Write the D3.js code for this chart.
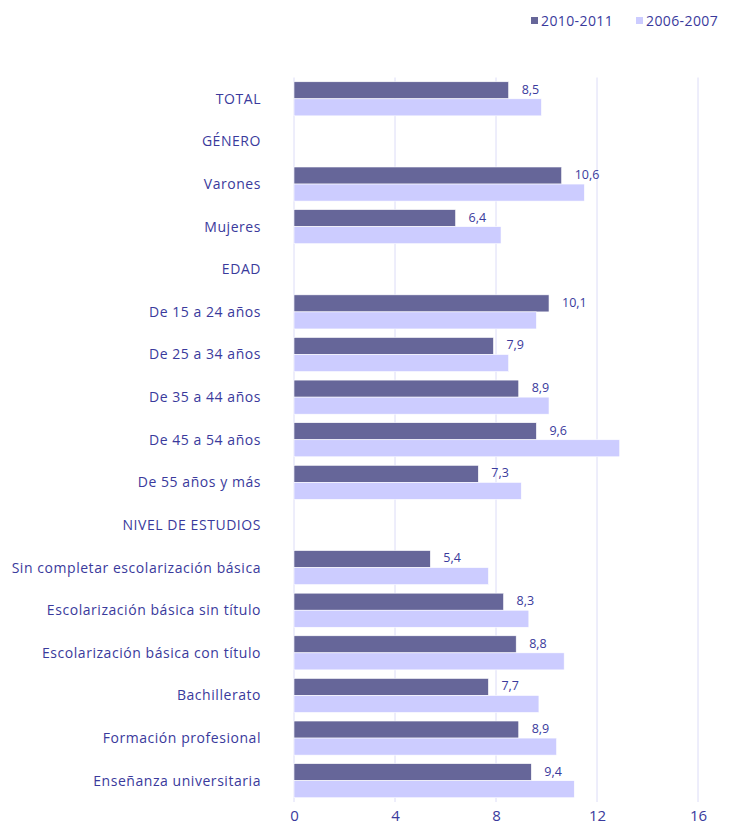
<!DOCTYPE html>
<html>
<head>
<meta charset="utf-8">
<script src="https://cdn.jsdelivr.net/npm/d3@7"></script>
<style>
  body { margin: 0; background: #fff; }
  svg text { font-family: "Open Sans", sans-serif; fill: #3a3a9c; }
</style>
</head>
<body>
<div id="chart"></div>
<script>
const categories = ['TOTAL', 'GÉNERO', 'Varones', 'Mujeres', 'EDAD', 'De 15 a 24 años', 'De 25 a 34 años',
  'De 35 a 44 años', 'De 45 a 54 años', 'De 55 años y más', 'NIVEL DE ESTUDIOS',
  'Sin completar escolarización básica', 'Escolarización básica sin título', 'Escolarización básica con título',
  'Bachillerato', 'Formación profesional', 'Enseñanza universitaria'];
const series = ['2010-2011', '2006-2007'];
// null = heading row, no bar
const values2010 = [8.5, null, 10.6, 6.4, null, 10.1, 7.9, 8.9, 9.6, 7.3, null, 5.4, 8.3, 8.8, 7.7, 8.9, 9.4];
const values2006 = [9.8, null, 11.5, 8.2, null, 9.6, 8.5, 10.1, 12.9, 9.0, null, 7.7, 9.3, 10.7, 9.7, 10.4, 11.1];
const xTicks = [0, 4, 8, 12, 16];

const colors = ['#666699', '#ccccff'];
const width = 729, height = 824;
const margin = { top: 77.5, right: 31, bottom: 22, left: 294 };

const svg = d3.select('#chart').append('svg')
  .attr('width', width)
  .attr('height', height);

const x = d3.scaleLinear()
  .domain([0, 16])
  .range([margin.left, width - margin.right]);

const y = d3.scaleBand()
  .domain(categories)
  .range([margin.top, height - margin.bottom])
  .paddingInner(0.2)
  .paddingOuter(0.1);

const ySub = d3.scaleBand()
  .domain(series)
  .range([0, y.bandwidth()]);

// grid
svg.append('g')
  .selectAll('line')
  .data(xTicks)
  .join('line')
    .attr('x1', d => x(d)).attr('x2', d => x(d))
    .attr('y1', margin.top).attr('y2', height - margin.bottom)
    .attr('stroke', '#dcdcf7')
    .attr('stroke-width', 1);

const rows = categories.map((c, i) => ({ cat: c, v: [values2010[i], values2006[i]] }));

const g = svg.append('g');
series.forEach((s, si) => {
  g.append('g')
    .selectAll('rect')
    .data(rows.filter(r => r.v[si] != null))
    .join('rect')
      .attr('x', x(0))
      .attr('y', d => y(d.cat) + ySub(s))
      .attr('width', d => x(d.v[si]) - x(0))
      .attr('height', ySub.bandwidth())
      .attr('fill', colors[si])
      .attr('stroke', '#fff')
      .attr('stroke-width', 0.6);
});

// value labels for 2010-2011
g.append('g')
  .selectAll('text')
  .data(rows.filter(r => r.v[0] != null))
  .join('text')
    .attr('x', d => x(d.v[0]) + 13)
    .attr('y', d => y(d.cat) + ySub(series[0]) + ySub.bandwidth() / 2 - 1)
    .attr('dy', '0.35em')
    .attr('font-size', 12.5)
    .text(d => d3.format('.1f')(d.v[0]).replace('.', ','));

// category labels
svg.append('g')
  .selectAll('text')
  .data(categories)
  .join('text')
    .attr('x', 261)
    .attr('y', d => y(d) + y.bandwidth() / 2)
    .attr('dy', '0.35em')
    .attr('text-anchor', 'end')
    .attr('font-size', 14)
    .attr('letter-spacing', 0.55)
    .text(d => d);

// x axis
const xAxis = svg.append('g')
  .attr('transform', `translate(0,${height - margin.bottom})`)
  .call(d3.axisBottom(x).tickValues(xTicks).tickSize(0).tickPadding(8));
xAxis.select('.domain').remove();
xAxis.selectAll('text')
  .attr('font-size', 15)
  .attr('font-family', '"Open Sans", sans-serif')
  .attr('fill', '#3a3a9c');

// legend
const legend = svg.append('g').attr('transform', 'translate(531,21)');
const lx = [0, 105];
series.forEach((s, i) => {
  legend.append('rect')
    .attr('x', lx[i]).attr('y', -4)
    .attr('width', 7).attr('height', 7)
    .attr('fill', colors[i]);
  legend.append('text')
    .attr('x', lx[i] + 10).attr('y', 0)
    .attr('dy', '0.35em')
    .attr('font-size', 14)
    .attr('letter-spacing', 0.4)
    .text(s);
});
</script>
</body>
</html>
